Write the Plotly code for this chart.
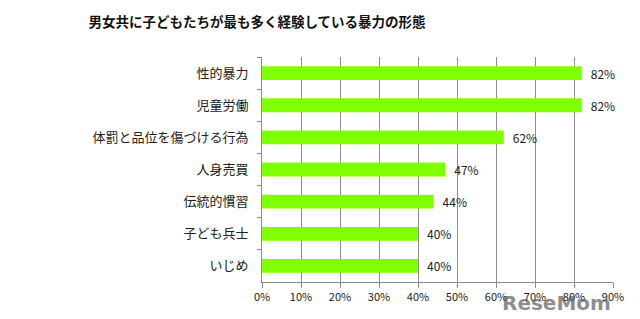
import plotly.graph_objects as go

categories = ["性的暴力", "児童労働", "体罰と品位を傷づける行為", "人身売買", "伝統的慣習", "子ども兵士", "いじめ"]
values = [82, 82, 62, 47, 44, 40, 40]
tick_vals = [0, 10, 20, 30, 40, 50, 60, 70, 80, 90]
tick_text = [f"{v}%" for v in tick_vals]
title = "男女共に子どもたちが最も多く経験している暴力の形態"

font = "Noto Sans CJK JP"

fig = go.Figure(go.Bar(
    y=categories, x=values, orientation="h",
    marker=dict(color="#80FF00", line=dict(width=0)),
    text=[f"\u2002{v}%" for v in values], textposition="outside",
    textfont=dict(size=12, color="#222", family=font),
    constraintext="none",
    cliponaxis=False, width=0.43,
))

fig.update_layout(
    width=640, height=319,
    margin=dict(l=262, r=27, t=57, b=37),
    paper_bgcolor="white", plot_bgcolor="white",
    showlegend=False,
    font=dict(family=font, color="#222"),
    title=dict(text="<b>" + title + "</b>", x=257/640, xanchor="center", y=1-22/319, yanchor="middle",
               font=dict(size=13.5, family=font, color="#111")),
    xaxis=dict(range=[0, 90], tickvals=tick_vals, ticktext=tick_text,
               showgrid=True, gridcolor="#8c8c8c", gridwidth=1,
               showline=True, linecolor="#8c8c8c", ticks="outside", ticklen=5, tickcolor="#8c8c8c",
               tickfont=dict(size=11, family=font, color="#222"), zeroline=False),
    yaxis=dict(autorange="reversed", showline=True, linecolor="#8c8c8c",
               ticks="outside", ticklen=4, tickcolor="#8c8c8c", tickson="boundaries",
               tickfont=dict(size=13, family=font, color="#222"), ticklabelstandoff=10),
)

fig.add_annotation(text="<b>ReseMom</b>", x=1.0, y=-0.03, xref="paper", yref="paper",
                   xanchor="right", yanchor="top", showarrow=False,
                   font=dict(size=20, color="rgba(90,90,90,0.7)", family="DejaVu Sans"))

fig.write_html("out.html")
